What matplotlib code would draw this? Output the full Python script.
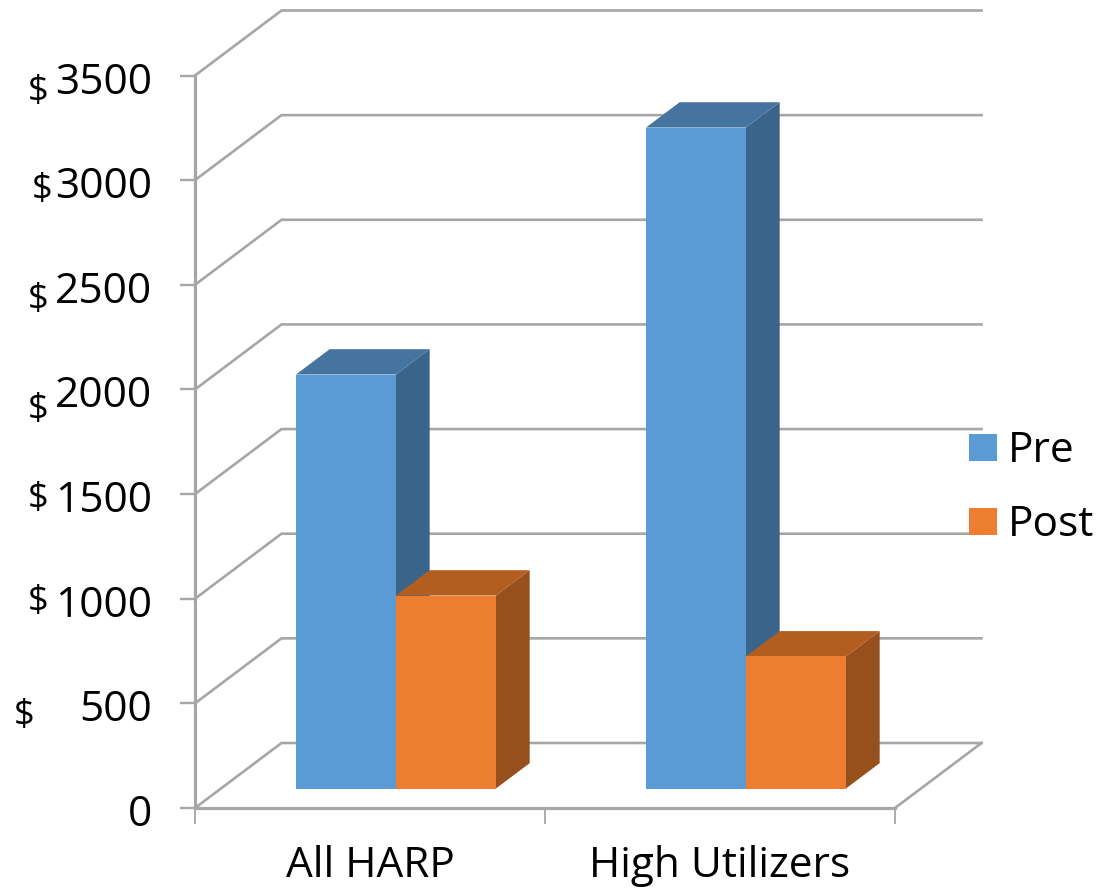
import matplotlib
matplotlib.use("Agg")
import matplotlib.pyplot as plt
from matplotlib.patches import Patch
from matplotlib.transforms import ScaledTranslation
import numpy as np

categories = ["All HARP", "High Utilizers"]
pre_values = [1978, 3158]
post_values = [922, 631]
y_ticks = [0, 500, 1000, 1500, 2000, 2500, 3000, 3500]

# Where the stray "$" signs sit, relative to each tick, in pixels
dollar_ticks = [500, 1000, 1500, 2000, 2500, 3000, 3500]
dollar_x = [24, 38, 38, 38, 38, 42, 38]
dollar_dy = [-12.5, -3.5, -4.5, -21, -15.5, -9.5, -16]

W, H = 1108, 889
GRID = "#a6a6a6"
FONT = "Open Sans"

# 3d look: how far the back wall is moved from the front plane, in data units
wall_dx = 86.5 / 350
wall_dy = 65 * 3500 / 732.5
bar_width = 100 / 350
bar_front, bar_back = 0.30, 0.69


def project(x, v, depth):
    return x + wall_dx * depth, v + wall_dy * depth


def draw_bar(ax, left, value, front_col, top_col, side_col, z):
    right = left + bar_width
    fx0, fy0 = project(left, 0, bar_front)
    fx1, fy1 = project(right, value, bar_front)
    bx0, by0 = project(left, 0, bar_back)
    bx1, by1 = project(right, value, bar_back)
    # side, top, then the front face
    ax.fill([fx1, bx1, bx1, fx1], [fy0, by0, by1, fy1], color=side_col, lw=0, zorder=z, clip_on=False)
    ax.fill([fx0, bx0, bx1, fx1], [fy1, by1, by1, fy1], color=top_col, lw=0, zorder=z, clip_on=False)
    ax.fill([fx0, fx1, fx1, fx0], [fy0, fy0, fy1, fy1], color=front_col, lw=0, zorder=z, clip_on=False)


def main():
    fig = plt.figure(figsize=(W / 100, H / 100), dpi=100)
    ax = fig.add_axes([195 / W, 1 - 808 / H, 700 / W, 732.5 / H])
    ax.set_xlim(0, len(categories))
    ax.set_ylim(0, 3500)
    ax.patch.set_alpha(0)

    # Back wall and side wall lines
    for v in y_ticks:
        x1, y1 = project(0, v, 1)
        x2, y2 = project(len(categories), v, 1)
        ax.plot([0, x1, x2], [v, y1, y2], color=GRID, lw=1.9, zorder=1, clip_on=False, solid_joinstyle="miter")
    x1, y1 = project(len(categories), 0, 1)
    ax.plot([len(categories), x1], [0, y1], color=GRID, lw=1.9, zorder=1, clip_on=False)

    for i in range(len(categories)):
        draw_bar(ax, i + 0.5 - bar_width, pre_values[i], "#5b9bd5", "#4674a0", "#3a6489", 3 + i * 2)
        draw_bar(ax, i + 0.5, post_values[i], "#ed7d31", "#b35d21", "#97501c", 4 + i * 2)

    for s in ["top", "right"]:
        ax.spines[s].set_visible(False)
    for s in ["left", "bottom"]:
        ax.spines[s].set_color(GRID)
        ax.spines[s].set_linewidth(2.3)
        ax.spines[s].set_zorder(2)

    ax.set_yticks(y_ticks)
    ax.set_yticklabels([str(v) for v in y_ticks], fontsize=30.5, family=FONT, color="black")
    ax.tick_params(axis="y", length=11, width=1.7, color=GRID, pad=20)
    # the numbers sit a little under their ticks in the original
    nudge = ScaledTranslation(0, -2 / 100, fig.dpi_scale_trans)
    for lab in ax.get_yticklabels():
        lab.set_transform(lab.get_transform() + nudge)

    ax.set_xticks(np.arange(len(categories)) + 0.5)
    ax.set_xticklabels(categories, fontsize=30.5, family=FONT, color="black")
    ax.set_xticks(np.arange(len(categories) + 1), minor=True)
    ax.tick_params(axis="x", which="major", length=0, pad=26.5)
    ax.tick_params(axis="x", which="minor", length=11.5, width=1.3, color=GRID)

    for v, px, dy in zip(dollar_ticks, dollar_x, dollar_dy):
        ax.annotate("$", xy=(0, v), xycoords="data", xytext=(px - 195, dy), textcoords="offset pixels",
                    ha="center", va="center", fontsize=26, family=FONT, color="black", annotation_clip=False)

    handles = [Patch(color="#5b9bd5", lw=0), Patch(color="#ed7d31", lw=0)]
    ax.legend(handles, ["Pre", "Post"], loc="upper left", bbox_to_anchor=(969 / W, 1 - 430 / H),
              bbox_transform=fig.transFigure, frameon=False, borderpad=0, borderaxespad=0,
              handlelength=0.66, handleheight=0.6, handletextpad=0.26, labelspacing=0.76,
              prop={"family": FONT, "size": 30.5})

    fig.savefig("out.png", dpi=100, facecolor="white")


main()
